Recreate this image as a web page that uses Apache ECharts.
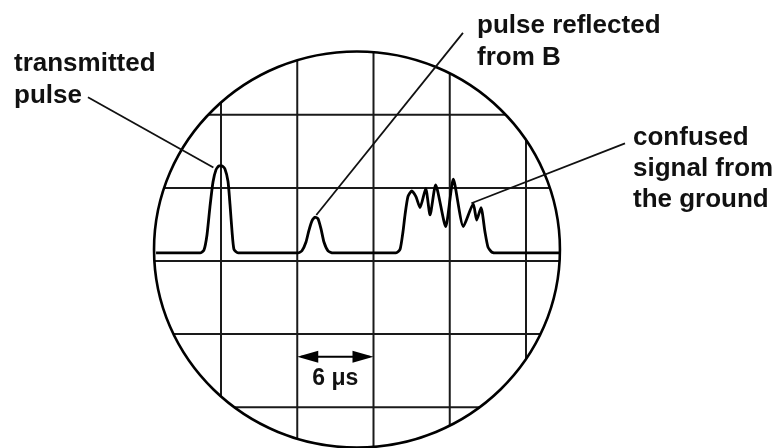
<!DOCTYPE html>
<html>
<head>
<meta charset="utf-8">
<script src="https://cdn.jsdelivr.net/npm/echarts@6/dist/echarts.min.js"></script>
<style>
  html, body { margin: 0; background: #fff; }
  #main { width: 777px; height: 448px; }
</style>
</head>
<body>
<div id="main"></div>
<script>
// x in microseconds, y in screen divisions (one division = 6 μs across)
var timeDivs = [0, 6, 12, 18, 24]
var heightDivs = [-2, -1, 0, 1, 2]

// the trace: [time μs, height div]
var trace = [
  [-5.11, 0.11], [-1.65, 0.11], [-1.34, 0.15], [-1.10, 0.36], [-0.87, 0.74],
  [-0.63, 1.08], [-0.39, 1.25], [-0.16, 1.30], [0.08, 1.30], [0.31, 1.26],
  [0.55, 1.09], [0.71, 0.77], [0.87, 0.40], [1.02, 0.16], [1.34, 0.11],
  [6.06, 0.11], [6.37, 0.14], [6.69, 0.26], [6.92, 0.42], [7.16, 0.55],
  [7.40, 0.60], [7.63, 0.58], [7.87, 0.44], [8.10, 0.26], [8.42, 0.14],
  [8.81, 0.11], [13.77, 0.11], [14.09, 0.16], [14.32, 0.40], [14.48, 0.63],
  [14.71, 0.88], [15.01, 0.96], [15.34, 0.88], [15.66, 0.73], [16.11, 0.99],
  [16.45, 0.63], [16.89, 1.04], [17.68, 0.47], [18.28, 1.12], [19.07, 0.47],
  [19.85, 0.78], [20.12, 0.56], [20.46, 0.73], [20.77, 0.40], [21.01, 0.19],
  [21.32, 0.12], [21.72, 0.11], [26.68, 0.11]
]

// leader lines: [x1, y1, x2, y2]
var leaders = [
  [-10.47, 2.24, -0.6, 1.28],   // transmitted pulse
  [19.04, 3.12, 7.5, 0.63],     // pulse reflected from B
  [31.79, 1.61, 19.7, 0.79]     // confused signal from the ground
]

// the 6 μs marker: [from, to, height]
var spanArrow = [6, 12, -1.31]
var spanLabel = '6 μs'

// round screen: centre and radii in axis units
var screen = { cx: 10.7, cy: 0.157, rx: 15.97, ry: 2.709 }

var chart = echarts.init(document.getElementById('main'))
var font = '"Liberation Sans", Arial, sans-serif'

function onScreenY(x) {
  var t = (x - screen.cx) / screen.rx
  return screen.ry * Math.sqrt(Math.max(0, 1 - t * t))
}
function onScreenX(y) {
  var t = (y - screen.cy) / screen.ry
  return screen.rx * Math.sqrt(Math.max(0, 1 - t * t))
}

chart.setOption({
  animation: false,
  grid: { left: 68.5, right: 98.5, top: 5.15, bottom: 4.25 },
  xAxis: { type: 'value', min: -12, max: 36, show: false },
  yAxis: { type: 'value', min: -2.5, max: 3.5, show: false },
  graphic: [
    { type: 'text', left: 14, top: 48,
      style: { text: 'transmitted\npulse', fontFamily: font, fontSize: 26, fontWeight: 'bold', lineHeight: 32, fill: '#111' } },
    { type: 'text', left: 477, top: 10,
      style: { text: 'pulse reflected\nfrom B', fontFamily: font, fontSize: 26, fontWeight: 'bold', lineHeight: 32, fill: '#111' } },
    { type: 'text', left: 633, top: 122,
      style: { text: 'confused\nsignal from\nthe ground', fontFamily: font, fontSize: 26, fontWeight: 'bold', lineHeight: 31, fill: '#111' } }
  ],
  series: [
    {
      // vertical graticule, clipped to the screen
      type: 'custom',
      data: timeDivs.map(function(v) { return [v] }),
      renderItem: function(params, api) {
        var x = api.value(0)
        var h = onScreenY(x)
        var a = api.coord([x, screen.cy + h])
        var b = api.coord([x, screen.cy - h])
        return { type: 'line', shape: { x1: a[0], y1: a[1], x2: b[0], y2: b[1] },
          style: { stroke: '#1a1a1a', lineWidth: 2 } }
      }
    },
    {
      // horizontal graticule
      type: 'custom',
      data: heightDivs.map(function(v) { return [0, v] }),
      renderItem: function(params, api) {
        var y = api.value(1)
        var w = onScreenX(y)
        var a = api.coord([screen.cx - w, y])
        var b = api.coord([screen.cx + w, y])
        return { type: 'line', shape: { x1: a[0], y1: a[1], x2: b[0], y2: b[1] },
          style: { stroke: '#1a1a1a', lineWidth: 2 } }
      }
    },
    {
      // screen outline
      type: 'custom',
      data: [[screen.cx, screen.cy]],
      renderItem: function(params, api) {
        var c = api.coord([api.value(0), api.value(1)])
        var s = api.size([screen.rx, screen.ry])
        return { type: 'ellipse', shape: { cx: c[0], cy: c[1], rx: s[0], ry: s[1] },
          style: { fill: 'none', stroke: '#000', lineWidth: 2.6 } }
      }
    },
    {
      type: 'line',
      data: trace,
      showSymbol: false,
      smooth: 0.2,
      lineStyle: { color: '#000', width: 2.8, join: 'round' },
      z: 3
    },
    {
      type: 'custom',
      data: leaders,
      z: 4,
      renderItem: function(params, api) {
        var a = api.coord([api.value(0), api.value(1)])
        var b = api.coord([api.value(2), api.value(3)])
        return { type: 'line', shape: { x1: a[0], y1: a[1], x2: b[0], y2: b[1] },
          style: { stroke: '#111', lineWidth: 1.8 } }
      }
    },
    {
      type: 'custom',
      data: [spanArrow],
      z: 4,
      renderItem: function(params, api) {
        var a = api.coord([api.value(0), api.value(2)])
        var b = api.coord([api.value(1), api.value(2)])
        var y = a[1], hl = 21, hw = 6
        return {
          type: 'group',
          children: [
            { type: 'line', shape: { x1: a[0] + 4, y1: y, x2: b[0] - 4, y2: y },
              style: { stroke: '#000', lineWidth: 1.8 } },
            { type: 'polygon', shape: { points: [[a[0], y], [a[0] + hl, y - hw], [a[0] + hl, y + hw]] },
              style: { fill: '#000' } },
            { type: 'polygon', shape: { points: [[b[0], y], [b[0] - hl, y - hw], [b[0] - hl, y + hw]] },
              style: { fill: '#000' } },
            { type: 'text', x: (a[0] + b[0]) / 2, y: y + 22,
              style: { text: spanLabel, fontFamily: font, fontSize: 23, fontWeight: 'bold',
                fill: '#111', align: 'center', verticalAlign: 'middle' } }
          ]
        }
      }
    }
  ]
})
</script>
</body>
</html>
